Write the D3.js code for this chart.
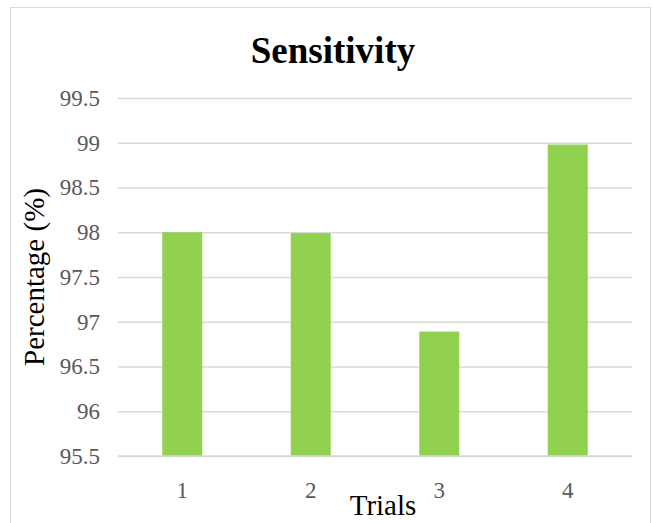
<!DOCTYPE html>
<html>
<head>
<meta charset="utf-8">
<script src="https://cdn.jsdelivr.net/npm/d3@7"></script>
<style>
  html, body { margin: 0; padding: 0; background: #ffffff; }
  svg { display: block; }
  .serif { font-family: "Liberation Serif", Tinos, "Times New Roman", Times, "DejaVu Serif", serif; }
</style>
</head>
<body>
<svg id="chart" width="653" height="523"></svg>
<script>
// Sensitivity per trial (%)
const trials = ["1", "2", "3", "4"];
const sensitivity = [98.0, 97.99, 96.89, 98.98];
const yTicks = [95.5, 96, 96.5, 97, 97.5, 98, 98.5, 99, 99.5];

const chartTitle = "Sensitivity";
const xTitle = "Trials";
const yTitle = "Percentage (%)";

const plot = { left: 118, right: 632, top: 98, bottom: 456 };

const svg = d3.select("#chart");

// chart frame
svg.append("rect")
  .attr("x", 10.5).attr("y", 7.5)
  .attr("width", 640).attr("height", 530)
  .attr("fill", "#ffffff")
  .attr("stroke", "#d9d9d9").attr("stroke-width", 1);

const x = d3.scaleBand()
  .domain(trials)
  .range([plot.left, plot.right])
  .paddingInner(0.689)
  .paddingOuter(0.3445);

const y = d3.scaleLinear()
  .domain([95.5, 99.5])
  .range([plot.bottom, plot.top]);

// horizontal gridlines + y tick labels
const yAxis = d3.axisLeft(y)
  .tickValues(yTicks)
  .tickSize(-(plot.right - plot.left))
  .tickPadding(18)
  .tickFormat(d => String(d));

const gy = svg.append("g")
  .attr("transform", `translate(${plot.left},0)`)
  .call(yAxis)
  .attr("font-family", null)
  .attr("class", "serif");
gy.select(".domain").remove();
gy.selectAll(".tick line").attr("stroke", "#d9d9d9").attr("stroke-width", 1.3);
gy.selectAll(".tick text")
  .attr("fill", "#595959")
  .attr("font-size", 23);

// bars
svg.append("g")
  .selectAll("rect")
  .data(trials.map((t, i) => ({ t, v: sensitivity[i] })))
  .join("rect")
  .attr("x", d => x(d.t))
  .attr("width", x.bandwidth())
  .attr("y", d => y(d.v))
  .attr("height", d => y(95.5) - y(d.v))
  .attr("fill", "#92d050");

// x tick labels
const xAxis = d3.axisBottom(x).tickSize(0).tickPadding(26);
const gx = svg.append("g")
  .attr("transform", `translate(0,${plot.bottom})`)
  .call(xAxis)
  .attr("font-family", null)
  .attr("class", "serif");
gx.select(".domain").remove();
gx.selectAll(".tick text")
  .attr("fill", "#595959")
  .attr("font-size", 23);

// baseline
svg.append("line")
  .attr("x1", plot.left).attr("x2", plot.right)
  .attr("y1", y(95.5)).attr("y2", y(95.5))
  .attr("stroke", "#d9d9d9").attr("stroke-width", 1.3);

// titles
svg.append("text")
  .attr("class", "serif")
  .attr("x", 333).attr("y", 63)
  .attr("text-anchor", "middle")
  .attr("font-weight", "bold")
  .attr("font-size", 37)
  .attr("fill", "#000000")
  .text(chartTitle);

svg.append("text")
  .attr("class", "serif")
  .attr("x", 383).attr("y", 515)
  .attr("text-anchor", "middle")
  .attr("font-size", 29)
  .attr("fill", "#000000")
  .text(xTitle);

svg.append("text")
  .attr("class", "serif")
  .attr("transform", `translate(44,${(plot.top + plot.bottom) / 2}) rotate(-90)`)
  .attr("text-anchor", "middle")
  .attr("font-size", 29)
  .attr("fill", "#000000")
  .text(yTitle);
</script>
</body>
</html>
